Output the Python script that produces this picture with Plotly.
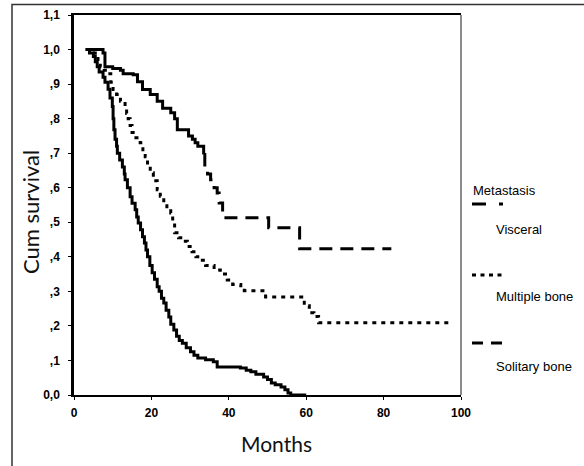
import plotly.graph_objects as go

# Kaplan-Meier step data (months, cumulative survival)
visceral_t = [3, 4, 5, 5.5, 6, 6.5, 7.5, 8, 8.8, 9.3, 9.9, 10.1, 10.3, 10.6, 11, 11.2, 11.8, 12.5, 13, 13.2,
              13.8, 14.5, 15, 15.8, 16.2, 16.6, 17.2, 17.7, 18.2, 18.6, 19, 19.6, 20.2, 20.8, 21.5, 22, 22.6,
              23.2, 23.8, 24.5, 25, 25.8, 26.5, 27.2, 28, 29, 30.1, 31, 32, 34, 36, 37, 43, 44.5, 45.7, 47,
              49, 50, 51, 52, 53.5, 54.5, 55.3, 56, 60]
visceral_s = [1.0, 0.99, 0.98, 0.965, 0.95, 0.935, 0.92, 0.905, 0.885, 0.86, 0.835, 0.80, 0.768, 0.74, 0.72,
              0.70, 0.68, 0.66, 0.64, 0.623, 0.60, 0.574, 0.555, 0.536, 0.515, 0.498, 0.478, 0.458, 0.44, 0.42,
              0.40, 0.375, 0.354, 0.335, 0.313, 0.30, 0.28, 0.266, 0.245, 0.226, 0.205, 0.188, 0.17, 0.158,
              0.15, 0.137, 0.125, 0.115, 0.107, 0.102, 0.096, 0.081, 0.078, 0.072, 0.067, 0.06, 0.052, 0.045,
              0.035, 0.03, 0.023, 0.015, 0.006, 0.0, 0.0]

multiple_t = [3.5, 4.5, 5.5, 6.2, 6.8, 7.8, 8.8, 9.5, 10.1, 11, 12, 13.2, 13.6, 14, 14.5, 15, 16, 17.1, 17.8,
              18.4, 19, 19.7, 20.5, 21.5, 22.3, 23.2, 24, 25, 25.5, 26, 27, 28, 29.3, 30.5, 31.5, 32.7, 34,
              36.2, 37.8, 39.6, 41, 43.1, 44, 49.5, 59.5, 60.8, 62, 63.2, 97]
multiple_s = [1.0, 0.99, 0.98, 0.965, 0.95, 0.94, 0.93, 0.905, 0.884, 0.87, 0.85, 0.835, 0.815, 0.80, 0.78,
              0.76, 0.745, 0.73, 0.71, 0.69, 0.665, 0.643, 0.62, 0.594, 0.575, 0.556, 0.54, 0.527, 0.50, 0.47,
              0.455, 0.445, 0.43, 0.415, 0.40, 0.39, 0.375, 0.362, 0.35, 0.333, 0.32, 0.31, 0.302, 0.284,
              0.258, 0.238, 0.227, 0.209, 0.209]

solitary_t = [3, 7.5, 8, 10, 12, 12.7, 15.3, 16.4, 17.7, 19.7, 21.5, 22.9, 25, 26, 26.7, 29.6, 30.6, 31.3,
              32, 33.5, 33.8, 34.5, 35.3, 36.2, 37, 37.5, 38.4, 50.3, 58.3, 82]
solitary_s = [1.0, 0.99, 0.95, 0.945, 0.94, 0.93, 0.927, 0.907, 0.884, 0.87, 0.85, 0.83, 0.817, 0.80, 0.768,
              0.75, 0.74, 0.73, 0.72, 0.696, 0.66, 0.64, 0.623, 0.60, 0.585, 0.556, 0.513, 0.484, 0.423, 0.423]

x_ticks = [0, 20, 40, 60, 80, 100]
y_ticks = [0.0, 0.1, 0.2, 0.3, 0.4, 0.5, 0.6, 0.7, 0.8, 0.9, 1.0, 1.1]
y_tick_labels = ["0,0", ",1", ",2", ",3", ",4", ",5", ",6", ",7", ",8", ",9", "1,0", "1,1"]

legend_title = "Metastasis"
series_names = ["Visceral", "Multiple bone", "Solitary bone"]
legend_dash = ["14px,13px,4px,13px", "4px,4.5px", "11px,8px"]
plot_dash = [None, "4px,5px", "13px,8px"]

split = 19  # solitary curve drawn solid over its dense early steps

fig = go.Figure()
fig.add_trace(go.Scatter(x=visceral_t, y=visceral_s, mode="lines", line_shape="hv",
                         line=dict(color="black", width=3), name=series_names[0], showlegend=False))
fig.add_trace(go.Scatter(x=multiple_t, y=multiple_s, mode="lines", line_shape="hv",
                         line=dict(color="black", width=3, dash=plot_dash[1]), name=series_names[1],
                         showlegend=False))
fig.add_trace(go.Scatter(x=solitary_t[:split + 1], y=solitary_s[:split + 1], mode="lines", line_shape="hv",
                         line=dict(color="black", width=3), name=series_names[2], showlegend=False))
fig.add_trace(go.Scatter(x=solitary_t[split:], y=solitary_s[split:], mode="lines", line_shape="hv",
                         line=dict(color="black", width=3, dash=plot_dash[2]), name=series_names[2],
                         showlegend=False))

W, H = 584, 466
L, R, T, B = 74, 123, 15, 71
pw, ph = W - L - R, H - T - B


def px(x):
    return (x - L) / pw


def py(y):
    return (H - B - y) / ph


tickfont = dict(family="Liberation Sans, Arial", size=12, color="black", weight="bold")
fig.update_xaxes(range=[0, 100], tickvals=x_ticks, ticktext=[str(v) for v in x_ticks],
                 showgrid=False, zeroline=False, showline=True, linecolor="black", linewidth=2,
                 mirror=True, ticks="outside", ticklen=3, tickwidth=1, tickcolor="black",
                 tickfont=tickfont, ticklabelstandoff=3, automargin=False)
fig.update_yaxes(range=[0, 1.1], tickvals=y_ticks, ticktext=y_tick_labels,
                 showgrid=False, zeroline=False, showline=True, linecolor="black", linewidth=2.5,
                 ticks="outside", ticklen=3, tickwidth=1, tickcolor="black", tickfont=tickfont,
                 ticklabelstandoff=6, automargin=False)

shapes = [
    # right border of plot
    dict(type="line", xref="paper", yref="paper", x0=1, x1=1, y0=0, y1=1,
         line=dict(color="#666666", width=1.5)),
    # outer frame (extends past the right and bottom of the picture)
    dict(type="rect", xref="paper", yref="paper", x0=px(12), x1=px(640), y0=py(520), y1=py(4.5),
         line=dict(color="#333333", width=1.5), fillcolor="rgba(0,0,0,0)"),
]

annotations = [
    dict(text="Months", xref="paper", yref="paper", x=px(276), y=py(443), showarrow=False,
         font=dict(family="Lato", size=21, color="#111111"), xanchor="center", yanchor="middle"),
    dict(text="Cum survival", xref="paper", yref="paper", x=px(31), y=py(212), showarrow=False,
         textangle=-90, font=dict(family="Lato", size=22, color="#111111"),
         xanchor="center", yanchor="middle"),
    dict(text=legend_title, xref="paper", yref="paper", x=px(471), y=py(190), showarrow=False,
         font=dict(family="Liberation Sans, Arial", size=13, color="black"),
         xanchor="left", yanchor="middle"),
]

leg_line_y = [204, 275, 343]
leg_text_y = [229, 296, 366]
for i, name in enumerate(series_names):
    shapes.append(dict(type="line", xref="paper", yref="paper", x0=px(472), x1=px(503),
                       y0=py(leg_line_y[i]), y1=py(leg_line_y[i]),
                       line=dict(color="black", width=3, dash=legend_dash[i])))
    annotations.append(dict(text=name, xref="paper", yref="paper", x=px(494), y=py(leg_text_y[i]),
                            showarrow=False, font=dict(family="Liberation Sans, Arial", size=13,
                                                       color="black"),
                            xanchor="left", yanchor="middle"))

fig.update_layout(width=W, height=H, margin=dict(l=L, r=R, t=T, b=B),
                  paper_bgcolor="white", plot_bgcolor="white", shapes=shapes,
                  annotations=annotations, showlegend=False)

fig.write_html("out.html", config={"displayModeBar": False},
               post_script="document.body.style.margin='0';document.body.style.overflow='hidden';")
